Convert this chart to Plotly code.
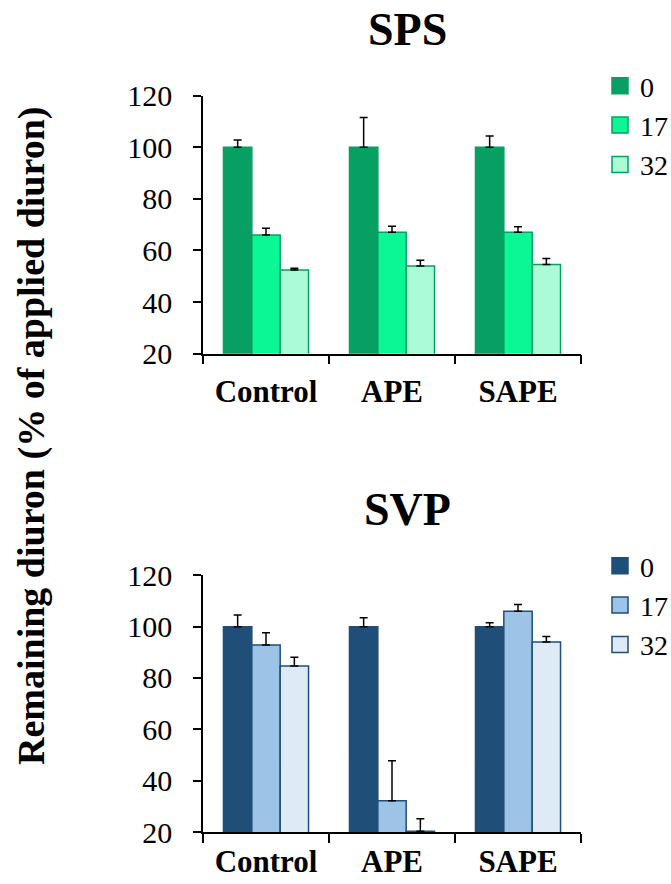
import plotly.graph_objects as go

categories = ["Control", "APE", "SAPE"]
series_names = ["0", "17", "32"]

sps_values = {"0": [100, 100, 100], "17": [66, 67, 67], "32": [52.4, 54, 54.5]}
sps_errors = {"0": [2.8, 11.5, 4.3], "17": [2.6, 2.4, 2.2], "32": [0.7, 2.2, 2.4]}

svp_values = {"0": [100, 100, 100], "17": [92.8, 32.2, 106], "32": [84.7, 20.3, 94]}
svp_errors = {"0": [4.5, 3.5, 1.5], "17": [4.8, 15.6, 2.6], "32": [3.4, 4.9, 2.2]}

sps_fill = {"0": "#07A062", "17": "#0BF795", "32": "#ABFBD7"}
sps_line = "#07A062"
svp_fill = {"0": "#1F4E79", "17": "#9DC3E6", "32": "#DEEBF7"}
svp_line = "#1F4E79"

FONT = "Liberation Serif, Times New Roman, serif"
W, H = 671, 884


def sx(px):
    return px / W


def sy(py):
    return 1 - py / H


fig = go.Figure()

panels = [
    ("x", "y", "legend", sps_values, sps_errors, sps_fill, sps_line),
    ("x2", "y2", "legend2", svp_values, svp_errors, svp_fill, svp_line),
]
for xa, ya, lg, vals, errs, fills, line in panels:
    for s in series_names:
        fig.add_trace(go.Bar(
            x=categories, y=vals[s], name=s, xaxis=xa, yaxis=ya, showlegend=False,
            marker=dict(color=fills[s], line=dict(color=line, width=1.5)),
            error_y=dict(type="data", array=errs[s], arrayminus=[0] * len(errs[s]),
                         symmetric=False, color="black", thickness=1.5, width=4),
        ))
    for s in series_names:
        fig.add_trace(go.Scatter(
            x=[None], y=[None], name=s, mode="markers", xaxis=xa, yaxis=ya,
            legend=lg, showlegend=True,
            marker=dict(symbol="square", size=16, color=fills[s],
                        line=dict(color=line, width=1.5)),
        ))

xcommon = dict(type="category", showline=True, linecolor="black", linewidth=1.5,
               ticks="outside", tickson="boundaries", ticklen=9, tickcolor="black",
               tickwidth=1.5, showgrid=False, zeroline=False, automargin=False,
               tickfont=dict(family=FONT, size=31, color="black"),
               tickprefix="<b>", ticksuffix="</b>",
               range=[-0.5, 2.5])
ycommon = dict(range=[20, 120], dtick=20, tick0=20, showline=True, linecolor="black",
               linewidth=1.5, ticks="outside", ticklen=8, tickcolor="black", tickwidth=1.5,
               showgrid=False, zeroline=False, automargin=False, ticklabelstandoff=15,
               tickfont=dict(family=FONT, size=30, color="black"))

leg = dict(xanchor="left", yanchor="top", font=dict(family=FONT, size=28, color="black"),
           bgcolor="rgba(0,0,0,0)", tracegroupgap=0, itemwidth=30, borderwidth=0)

fig.update_layout(
    width=W, height=H,
    margin=dict(l=0, r=0, t=0, b=0, autoexpand=False),
    paper_bgcolor="white", plot_bgcolor="white",
    barmode="group", bargap=0.325, bargroupgap=0,
    font=dict(family=FONT, color="black"),
    xaxis=dict(domain=[sx(203), sx(581)], anchor="y", ticklabelstandoff=9, **xcommon),
    yaxis=dict(domain=[sy(353.7), sy(95.5)], anchor="x", **ycommon),
    xaxis2=dict(domain=[sx(203), sx(581)], anchor="y2", ticklabelstandoff=1, **xcommon),
    yaxis2=dict(domain=[sy(832), sy(575.3)], anchor="x2", **ycommon),
    legend=dict(x=sx(600), y=sy(61), **leg),
    legend2=dict(x=sx(600), y=sy(541), **leg),
    annotations=[
        dict(text="<b>SPS</b>", x=sx(407), y=sy(30), xref="paper", yref="paper",
             xanchor="center", yanchor="middle",
             showarrow=False, font=dict(family=FONT, size=46, color="black")),
        dict(text="<b>SVP</b>", x=sx(407), y=sy(510), xref="paper", yref="paper",
             xanchor="center", yanchor="middle",
             showarrow=False, font=dict(family=FONT, size=46, color="black")),
        dict(text="<b>Remaining diuron (% of applied diuron)</b>", x=sx(31), y=sy(436),
             xref="paper", yref="paper", showarrow=False, textangle=-90,
             xanchor="center", yanchor="middle",
             font=dict(family=FONT, size=38, color="black")),
    ],
)

fig.write_html("out.html", config={"displayModeBar": False},
               post_script="document.body.style.margin='0';")
